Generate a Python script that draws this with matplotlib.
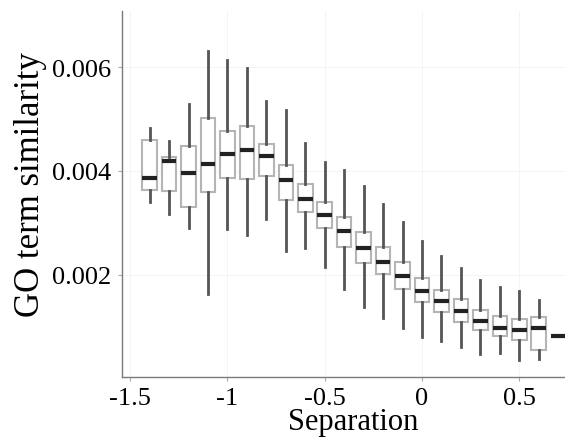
import matplotlib
matplotlib.use("Agg")
import matplotlib.pyplot as plt

# Separation bins and box statistics of GO term similarity per bin
separation = [-1.4, -1.3, -1.2, -1.1, -1.0, -0.9, -0.8, -0.7, -0.6, -0.5, -0.4,
              -0.3, -0.2, -0.1, 0.0, 0.1, 0.2, 0.3, 0.4, 0.5, 0.6, 0.7]
whisker_low = [0.00341, 0.00317, 0.00291, 0.00163, 0.00288, 0.00277, 0.00308, 0.00246,
               0.00252, 0.00215, 0.00174, 0.00138, 0.00118, 0.00098, 0.00080, 0.00074,
               0.00062, 0.00048, 0.00050, 0.00037, 0.00038, 0.00083]
q1 = [0.00364, 0.00361, 0.00331, 0.00360, 0.00386, 0.00384, 0.00391, 0.00345,
      0.00322, 0.00290, 0.00253, 0.00224, 0.00201, 0.00173, 0.00149, 0.00129,
      0.00110, 0.00095, 0.00083, 0.00075, 0.00056, 0.00083]
median = [0.00386, 0.00420, 0.00397, 0.00414, 0.00433, 0.00440, 0.00428, 0.00382,
          0.00346, 0.00316, 0.00284, 0.00252, 0.00225, 0.00199, 0.00170, 0.00150,
          0.00131, 0.00112, 0.00099, 0.00094, 0.00099, 0.00083]
q3 = [0.00460, 0.00426, 0.00449, 0.00501, 0.00477, 0.00486, 0.00452, 0.00412,
      0.00375, 0.00340, 0.00312, 0.00283, 0.00254, 0.00225, 0.00195, 0.00171,
      0.00153, 0.00133, 0.00122, 0.00115, 0.00119, 0.00083]
whisker_high = [0.00483, 0.00457, 0.00528, 0.00630, 0.00613, 0.00598, 0.00535, 0.00517,
                0.00453, 0.00417, 0.00401, 0.00371, 0.00337, 0.00302, 0.00265, 0.00236,
                0.00213, 0.00191, 0.00176, 0.00169, 0.00151, 0.00083]

x_ticks = [-1.5, -1.0, -0.5, 0.0, 0.5]
x_tick_labels = ["-1.5", "-1", "-0.5", "0", "0.5"]
y_ticks = [0.002, 0.004, 0.006]
y_tick_labels = ["0.002", "0.004", "0.006"]

plt.rcParams["font.family"] = ["Liberation Serif", "DejaVu Serif"]

fig = plt.figure(figsize=(5.65, 4.39), dpi=100)
ax = fig.add_axes([0.216, 0.139, 0.784, 0.834])

stats = []
for lo, a, m, b, hi in zip(whisker_low, q1, median, q3, whisker_high):
    stats.append({"whislo": lo, "q1": a, "med": m, "q3": b, "whishi": hi, "fliers": []})

ax.bxp(
    stats,
    positions=separation,
    widths=0.075,
    showcaps=False,
    showfliers=False,
    patch_artist=True,
    boxprops=dict(facecolor="white", edgecolor="#b5b5b5", linewidth=1.5),
    whiskerprops=dict(color="#555555", linewidth=2.0),
    medianprops=dict(color="#222222", linewidth=3.0, solid_capstyle="butt"),
    manage_ticks=False,
    zorder=3,
)

ax.set_xlim(-1.542, 0.735)
ax.set_ylim(0.0000385, 0.00708)

ax.set_xticks(x_ticks)
ax.set_xticklabels(x_tick_labels)
ax.set_yticks(y_ticks)
ax.set_yticklabels(y_tick_labels)

ax.grid(True, color="#f3f3f3", linewidth=0.6, zorder=0)
ax.set_axisbelow(True)

for side in ("top", "right"):
    ax.spines[side].set_visible(False)
for side in ("left", "bottom"):
    ax.spines[side].set_color("#7a7a7a")
    ax.spines[side].set_linewidth(1.0)

ax.tick_params(axis="both", length=3, width=0.8, color="#aaaaaa",
               labelsize=19, labelcolor="black")
ax.tick_params(axis="x", pad=4)
ax.tick_params(axis="y", pad=5)

ax.set_xlabel("Separation", fontsize=22)
ax.xaxis.set_label_coords(0.521, -0.083)
ax.set_ylabel("GO term similarity", fontsize=25)
ax.yaxis.set_label_coords(-0.169, 0.527)

fig.savefig("out.png", dpi=100)
